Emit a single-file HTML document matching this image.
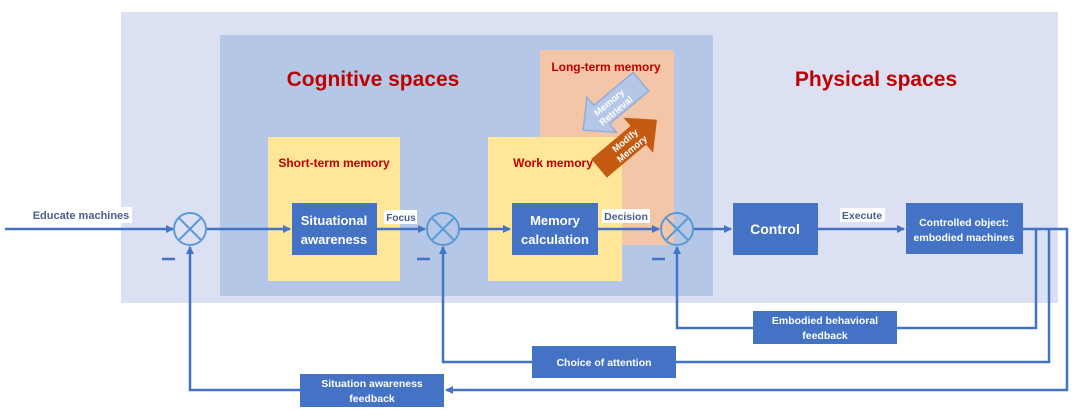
<!DOCTYPE html>
<html><head><meta charset="utf-8"><style>
body{margin:0;background:#fff;}
svg{display:block;font-family:"Liberation Sans",sans-serif;font-weight:bold;}
</style></head><body>
<svg width="1080" height="411" viewBox="0 0 1080 411" xmlns="http://www.w3.org/2000/svg">
<defs>
<marker id="a" markerWidth="8" markerHeight="8" refX="7" refY="4" orient="auto" markerUnits="userSpaceOnUse"><path d="M0,0 L8,4 L0,8 z" fill="#4472c4"/></marker>
</defs>
<rect x="121" y="12" width="937" height="291" fill="#dbe1f2"/>
<rect x="220" y="35" width="493" height="261" fill="#b4c7e7"/>
<rect x="540" y="50" width="134" height="195" fill="#f4c6a8"/>
<rect x="268" y="137" width="132" height="144" fill="#ffe699"/>
<rect x="488" y="137" width="134" height="144" fill="#ffe699"/>
<text x="373" y="86" font-size="21" fill="#c00000" text-anchor="middle">Cognitive spaces</text>
<text x="876" y="86" font-size="21" fill="#c00000" text-anchor="middle">Physical spaces</text>
<text x="606" y="71" font-size="12" fill="#c00000" text-anchor="middle">Long-term memory</text>
<text x="334" y="167" font-size="12" fill="#c00000" text-anchor="middle">Short-term memory</text>
<text x="553" y="167" font-size="12" fill="#c00000" text-anchor="middle">Work memory</text>
<!-- memory arrows -->
<g transform="translate(612,106) rotate(-40) scale(1.35)">
<path d="M-28,-9 L10,-9 L10,-17 L28,0 L10,17 L10,9 L-28,9 z" transform="scale(-1,1)" fill="#b4c7e7" stroke="#8faadc"/>
<text x="0" y="-1" font-size="7" fill="#fff" text-anchor="middle">Memory</text><text x="0" y="7" font-size="7" fill="#fff" text-anchor="middle">Retrieval</text>
</g>
<g transform="translate(628,144) rotate(-40) scale(1.35)">
<path d="M-28,-9 L10,-9 L10,-17 L28,0 L10,17 L10,9 L-28,9 z" fill="#c55a11"/>
<text x="0" y="-1" font-size="7" fill="#fff" text-anchor="middle">Modify</text><text x="0" y="7" font-size="7" fill="#fff" text-anchor="middle">Memory</text>
</g>
<!-- boxes -->
<rect x="292" y="203" width="85" height="52" fill="#4472c4"/>
<text x="334" y="225" font-size="13" fill="#fff" text-anchor="middle">Situational</text>
<text x="334" y="244" font-size="13" fill="#fff" text-anchor="middle">awareness</text>
<rect x="512" y="203" width="86" height="52" fill="#4472c4"/>
<text x="555" y="225" font-size="13" fill="#fff" text-anchor="middle">Memory</text>
<text x="555" y="244" font-size="13" fill="#fff" text-anchor="middle">calculation</text>
<rect x="733" y="203" width="85" height="52" fill="#4472c4"/>
<text x="775" y="234" font-size="14" fill="#fff" text-anchor="middle">Control</text>
<rect x="906" y="203" width="117" height="51" fill="#4472c4"/>
<text x="964" y="226" font-size="10.5" fill="#fff" text-anchor="middle">Controlled object:</text>
<text x="964" y="241" font-size="10.5" fill="#fff" text-anchor="middle">embodied machines</text>
<!-- lines -->
<g stroke="#4472c4" stroke-width="2.5" fill="none">
<line x1="5" y1="229" x2="173" y2="229" marker-end="url(#a)"/>
<line x1="207" y1="229" x2="290" y2="229" marker-end="url(#a)"/>
<line x1="377" y1="229" x2="425" y2="229" marker-end="url(#a)"/>
<line x1="459" y1="229" x2="510" y2="229" marker-end="url(#a)"/>
<line x1="598" y1="229" x2="659" y2="229" marker-end="url(#a)"/>
<line x1="693" y1="229" x2="731" y2="229" marker-end="url(#a)"/>
<line x1="818" y1="229" x2="904" y2="229" marker-end="url(#a)"/>
<polyline points="1023,229 1067,229 1067,390 446,390" marker-end="url(#a)"/>
<polyline points="300,390 190,390 190,247" marker-end="url(#a)"/>
<polyline points="1036,229 1036,328 677,328 677,247" marker-end="url(#a)"/>
<polyline points="1049,229 1049,362 443,362 443,247" marker-end="url(#a)"/>
</g>
<!-- circles -->
<g stroke="#5b9bd5" stroke-width="2" fill="none">
<circle cx="190" cy="229" r="16"/><line x1="179" y1="218" x2="201" y2="240"/><line x1="201" y1="218" x2="179" y2="240"/>
<circle cx="443" cy="229" r="16"/><line x1="432" y1="218" x2="454" y2="240"/><line x1="454" y1="218" x2="432" y2="240"/>
<circle cx="677" cy="229" r="16"/><line x1="666" y1="218" x2="688" y2="240"/><line x1="688" y1="218" x2="666" y2="240"/>
</g>
<g stroke="#4472c4" stroke-width="2.5">
<line x1="162" y1="259" x2="175" y2="259"/><line x1="417" y1="259" x2="430" y2="259"/><line x1="652" y1="259" x2="665" y2="259"/>
</g>
<!-- labels -->
<rect x="30" y="207" width="102" height="16" fill="#fff"/>
<text x="81" y="219" font-size="11" fill="#4a5f8f" text-anchor="middle">Educate machines</text>
<rect x="384" y="210" width="33" height="14" fill="#fff"/>
<text x="401" y="221" font-size="10" fill="#4a5f8f" text-anchor="middle">Focus</text>
<rect x="602" y="209" width="48" height="14" fill="#fff"/>
<text x="626" y="220" font-size="10.5" fill="#4a5f8f" text-anchor="middle">Decision</text>
<rect x="840" y="208" width="45" height="14" fill="#fff"/>
<text x="862" y="219" font-size="10.5" fill="#4a5f8f" text-anchor="middle">Execute</text>
<rect x="753" y="311" width="144" height="33" fill="#4472c4"/>
<text x="825" y="324" font-size="10.5" fill="#fff" text-anchor="middle">Embodied behavioral</text>
<text x="825" y="339" font-size="10.5" fill="#fff" text-anchor="middle">feedback</text>
<rect x="532" y="346" width="144" height="32" fill="#4472c4"/>
<text x="604" y="366" font-size="10.5" fill="#fff" text-anchor="middle">Choice of attention</text>
<rect x="300" y="374" width="144" height="33" fill="#4472c4"/>
<text x="372" y="387" font-size="10.5" fill="#fff" text-anchor="middle">Situation awareness</text>
<text x="372" y="402" font-size="10.5" fill="#fff" text-anchor="middle">feedback</text>
</svg>
</body></html>
